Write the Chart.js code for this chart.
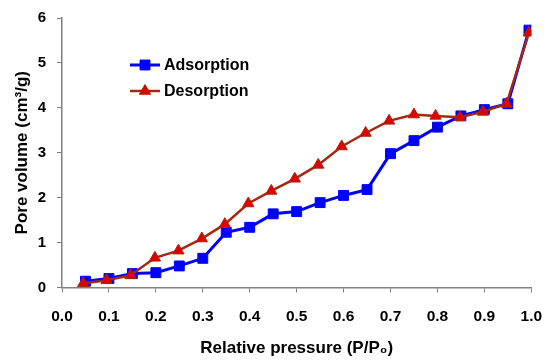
<!DOCTYPE html>
<html>
<head>
<meta charset="utf-8">
<script src="https://cdn.jsdelivr.net/npm/chart.js@4"></script>
<style>
html,body{margin:0;padding:0;background:#fff;}
#wrap{width:550px;height:362px;position:relative;}
</style>
</head>
<body>
<div id="wrap"><canvas id="c" width="550" height="362"></canvas></div>
<script>
const adsX = [0.05,0.10,0.15,0.20,0.25,0.30,0.35,0.40,0.45,0.50,0.55,0.60,0.65,0.70,0.75,0.80,0.85,0.90,0.95,0.995];
const adsY = [0.14,0.20,0.31,0.33,0.48,0.65,1.23,1.34,1.64,1.69,1.89,2.05,2.18,2.98,3.27,3.57,3.82,3.96,4.09,5.73];
const desX = [0.045,0.095,0.146,0.198,0.248,0.298,0.347,0.397,0.446,0.496,0.546,0.596,0.647,0.697,0.75,0.796,0.848,0.897,0.947,0.995];
const desY = [0.09,0.16,0.27,0.66,0.82,1.09,1.41,1.87,2.15,2.42,2.73,3.14,3.44,3.71,3.85,3.82,3.79,3.91,4.09,5.67];
const xTicks = [0,0.1,0.2,0.3,0.4,0.5,0.6,0.7,0.8,0.9,1.0];
const yTicks = [0,1,2,3,4,5,6];
const seriesNames = ['Adsorption','Desorption'];
const xTitle = 'Relative pressure (P/P\u2080)';
const yTitle = 'Pore volume (cm\u00B3/g)';

const FONT = "'Liberation Sans', Arial, sans-serif";
const BLUE = '#0000FF';
const BROWN = '#A5280F';
const RED = '#E00000';

const legendPlugin = {
  id: 'inlineLegend',
  afterDatasetsDraw(chart) {
    const ctx = chart.ctx;
    const items = chart.data.datasets;
    const x0 = 130, x1 = 160, ys = [65, 91];
    ctx.save();
    items.forEach((ds, i) => {
      const y = ys[i];
      ctx.strokeStyle = ds.borderColor;
      ctx.lineWidth = ds.borderWidth;
      ctx.beginPath(); ctx.moveTo(x0, y); ctx.lineTo(x1, y); ctx.stroke();
      ctx.fillStyle = ds.pointBackgroundColor;
      ctx.strokeStyle = ds.pointBorderColor;
      ctx.lineWidth = ds.pointBorderWidth;
      const opts = {pointStyle: ds.pointStyle, radius: ds.pointRadius, borderWidth: ds.pointBorderWidth};
      Chart.helpers.drawPoint(ctx, opts, (x0 + x1) / 2, y);
      ctx.fillStyle = '#000';
      ctx.font = "bold 16px " + FONT;
      ctx.textBaseline = 'middle';
      ctx.textAlign = 'left';
      ctx.fillText(ds.label, 164, y + 1);
    });
    ctx.restore();
  }
};

new Chart(document.getElementById('c'), {
  type: 'line',
  data: {
    datasets: [
      {
        label: seriesNames[0],
        data: adsX.map((x, i) => ({x: x, y: adsY[i]})),
        borderColor: BLUE, borderWidth: 3,
        pointStyle: 'rect', pointRadius: 7,
        pointBackgroundColor: BLUE, pointBorderColor: BLUE, pointBorderWidth: 1,
        tension: 0, order: 2
      },
      {
        label: seriesNames[1],
        data: desX.map((x, i) => ({x: x, y: desY[i]})),
        borderColor: BROWN, borderWidth: 2.5,
        pointStyle: 'triangle', pointRadius: 6.5,
        pointBackgroundColor: RED, pointBorderColor: BROWN, pointBorderWidth: 1,
        tension: 0, order: 1
      }
    ]
  },
  options: {
    responsive: false,
    animation: false,
    devicePixelRatio: 1,
    layout: {padding: {top: 18, right: 18.7, left: 0, bottom: 0}},
    plugins: {legend: {display: false}, tooltip: {enabled: false}},
    scales: {
      x: {
        type: 'linear', min: 0, max: 1,
        afterBuildTicks(s) { s.ticks = xTicks.map(v => ({value: v})); },
        afterFit(s) { s.height = 74.5; s.paddingLeft = 0; s.paddingRight = 0; },
        ticks: {
          callback: v => Number(v).toFixed(1),
          color: '#000', font: {family: FONT, size: 15.5, weight: 'bold'}, padding: 15, maxRotation: 0
        },
        grid: {display: true, drawOnChartArea: false, drawTicks: true, tickLength: 5, color: '#808080', lineWidth: 1},
        border: {display: true, color: '#808080', width: 1.5},
        title: {display: true, text: xTitle, color: '#000', font: {family: FONT, size: 17, weight: 'bold'}, padding: {top: 8, bottom: 3}}
      },
      y: {
        type: 'linear', min: 0, max: 6,
        afterBuildTicks(s) { s.ticks = yTicks.map(v => ({value: v})); },
        afterFit(s) { s.width = 62; s.paddingTop = 0; s.paddingBottom = 0; },
        ticks: {
          color: '#000', font: {family: FONT, size: 15, weight: 'bold'}, padding: 11
        },
        grid: {display: true, drawOnChartArea: false, drawTicks: true, tickLength: 5, color: '#808080', lineWidth: 1},
        border: {display: true, color: '#808080', width: 1.5},
        title: {display: true, text: yTitle, color: '#000', font: {family: FONT, size: 17, weight: 'bold'}, padding: {top: 12, bottom: 0}}
      }
    }
  },
  plugins: [legendPlugin]
});
</script>
</body>
</html>
